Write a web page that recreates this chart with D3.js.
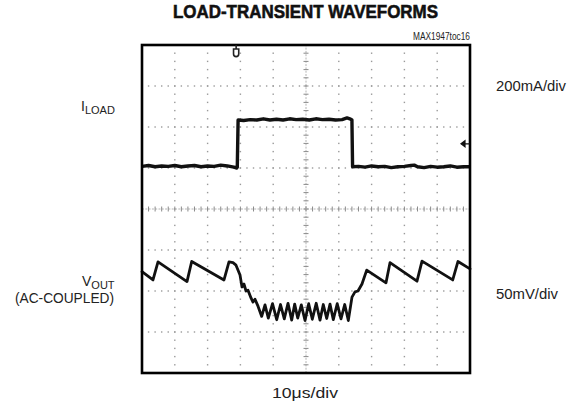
<!DOCTYPE html>
<html><head><meta charset="utf-8">
<script src="https://cdn.jsdelivr.net/npm/d3@7"></script>
<style>
html,body{margin:0;padding:0;background:#fff;}
svg{display:block;}
text{font-family:"Liberation Sans Narrow","Liberation Sans",Arial,sans-serif;fill:#222;}
</style></head>
<body>
<svg id="chart" width="574" height="408"></svg>
<script>
// ---- data (time in µs, amplitude in screen divisions, 0 = centre line) ----
const title = "LOAD-TRANSIENT WAVEFORMS";
const figId = "MAX1947toc16";
const timeDiv = "10μs/div";
const iloadScale = "200mA/div";
const voutScale = "50mV/div";

const iloadTime = [0,2,4,6,8,10,12,14,16,18,20,22,24,26,28,28.9,29.05,29.3,31,33,35,37,39,41,43,45,47,49,51,53,55,57,59,61,62.5,63.6,64.0,64.2,66,68,70,72,74,76,78,80,82,83,84,86,88,90,92,94,96,98,100];
const iloadDiv  = [1.04,1.06,1.03,1.05,1.04,1.06,1.03,1.05,1.06,1.03,1.05,1.04,1.07,1.05,1.02,1.00,1.02,2.17,2.16,2.18,2.17,2.20,2.17,2.19,2.17,2.20,2.18,2.19,2.17,2.20,2.18,2.19,2.17,2.18,2.22,2.19,2.17,1.03,1.04,1.02,1.05,1.03,1.04,1.01,1.03,1.04,1.06,1.07,1.03,1.01,1.04,1.02,1.03,1.05,1.02,1.03,1.03];

const voutTime = [0,3.35,4.88,13.72,15.15,25.0,26.52,27.74,28.66,29.88,30.49,31.10,31.71,32.32,33.23,33.84,34.45,35.37,
  36.49,37.5,38.51,39.79,41.07,42.23,43.38,44.51,45.64,46.55,47.47,48.57,49.70,50.82,51.92,53.11,54.27,55.27,56.31,57.32,58.32,59.51,60.67,61.8,62.90,
  64.02,64.94,65.85,67.07,68.51,74.39,75.61,83.84,85.37,94.73,96.34,100];
const voutDiv = [-1.53,-1.73,-1.29,-1.77,-1.28,-1.73,-1.29,-1.31,-1.37,-1.61,-1.90,-1.83,-2.00,-1.98,-2.17,-2.27,-2.20,-2.37,
  -2.62,-2.34,-2.66,-2.31,-2.70,-2.33,-2.68,-2.30,-2.71,-2.32,-2.66,-2.34,-2.72,-2.31,-2.69,-2.30,-2.71,-2.33,-2.67,-2.32,-2.70,-2.31,-2.68,-2.33,-2.72,
  -2.15,-2.02,-2.00,-1.83,-1.49,-1.80,-1.31,-1.76,-1.27,-1.73,-1.28,-1.46];

const triggerTime = 28.7;      // trigger marker position (µs)
const iloadRefDiv = 1.59;      // channel marker on right edge (div)

// ---- layout ----
const L = 142, T = 45, W = 328, H = 328;
const svg = d3.select("#chart");
const x = d3.scaleLinear().domain([0,100]).range([L, L+W]);
const y = d3.scaleLinear().domain([-4,4]).range([T+H, T]);

// grid
const g = svg.append("g");
const xMajor = d3.range(1,10).map(i=>i*10);
const yMajor = d3.range(-3,4);
const xMinor = d3.range(0,101,2);
const yMinor = d3.range(-40,41,2).map(v=>v/10);
xMajor.filter(v=>v!==50).forEach(v=>{
  g.selectAll(null).data(yMinor).join("rect")
   .attr("x", x(v)-0.7).attr("y", d=>y(d)-0.7).attr("width",1.4).attr("height",1.4).attr("fill","#9a9a9a");
});
yMajor.filter(v=>v!==0).forEach(v=>{
  g.selectAll(null).data(xMinor).join("rect")
   .attr("x", d=>x(d)-0.7).attr("y", y(v)-0.7).attr("width",1.4).attr("height",1.4).attr("fill","#9a9a9a");
});
g.append("line").attr("x1",x(0)).attr("x2",x(100)).attr("y1",y(0)).attr("y2",y(0))
 .attr("stroke","#b5b5b5").attr("stroke-width",1).attr("stroke-dasharray","2,1.3");
g.append("line").attr("x1",x(50)).attr("x2",x(50)).attr("y1",y(-4)).attr("y2",y(4))
 .attr("stroke","#b5b5b5").attr("stroke-width",1).attr("stroke-dasharray","2,1.3");
g.selectAll(null).data(xMinor).join("line")
 .attr("x1",d=>x(d)).attr("x2",d=>x(d)).attr("y1",y(0)-2.5).attr("y2",y(0)+2.5)
 .attr("stroke","#8a8a8a").attr("stroke-width",1);
g.selectAll(null).data(yMinor).join("line")
 .attr("y1",d=>y(d)).attr("y2",d=>y(d)).attr("x1",x(50)-2.5).attr("x2",x(50)+2.5)
 .attr("stroke","#8a8a8a").attr("stroke-width",1);

// traces
const line = d3.line().x(d=>x(d[0])).y(d=>y(d[1]));
const iload = iloadTime.map((t,i)=>[t,iloadDiv[i]]);
const vout = voutTime.map((t,i)=>[t,voutDiv[i]]);
svg.append("path").attr("d", line(iload)).attr("fill","none").attr("stroke","#111")
  .attr("stroke-width",3.4).attr("stroke-linejoin","round");
svg.append("path").attr("d", line(vout)).attr("fill","none").attr("stroke","#111")
  .attr("stroke-width",2.8).attr("stroke-linejoin","round").attr("stroke-linecap","round");

// frame
svg.append("rect").attr("x",L).attr("y",T).attr("width",W).attr("height",H)
  .attr("fill","none").attr("stroke","#000").attr("stroke-width",2.6);

// trigger marker
const tx = x(triggerTime);
svg.append("path").attr("d",`M${tx} ${T} V${T+4} M${tx-2.6} ${T+4} V${T+9} A2.6 2.6 0 0 0 ${tx+2.6} ${T+9} V${T+4} Z`)
  .attr("fill","none").attr("stroke","#222").attr("stroke-width",1.6);
const ry = y(iloadRefDiv);
svg.append("path").attr("d",`M${L+W-9} ${ry} L${L+W-5} ${ry-3} L${L+W-5} ${ry+3} Z M${L+W-6} ${ry} H${L+W}`)
  .attr("fill","#111").attr("stroke","#111").attr("stroke-width",1.2);

function fit(sel, w){ sel.attr("textLength",w).attr("lengthAdjust","spacingAndGlyphs"); return sel; }

fit(svg.append("text").attr("x",173).attr("y",18).attr("font-size",19).attr("font-weight",900)
  .style("fill","#111").style("stroke","#111").style("stroke-width",0.6).text(title), 265);
fit(svg.append("text").attr("x",470).attr("y",40).attr("text-anchor","end").attr("font-size",10).text(figId), 57);

const il = svg.append("text").attr("x",81).attr("y",111).attr("font-size",14);
il.append("tspan").text("I");
il.append("tspan").attr("font-size",11).attr("dy",3).text("LOAD");

const vl = svg.append("text").attr("x",82).attr("y",286).attr("font-size",14);
vl.append("tspan").text("V");
vl.append("tspan").attr("font-size",11).attr("dy",2.5).text("OUT");
fit(svg.append("text").attr("x",15).attr("y",303).attr("font-size",14).text("(AC-COUPLED)"), 99);

fit(svg.append("text").attr("x",496).attr("y",91).attr("font-size",14).text(iloadScale), 70);
fit(svg.append("text").attr("x",496).attr("y",299).attr("font-size",14).text(voutScale), 62);
fit(svg.append("text").attr("x",272).attr("y",398).attr("font-size",14).text(timeDiv), 66);
</script>
</body></html>
